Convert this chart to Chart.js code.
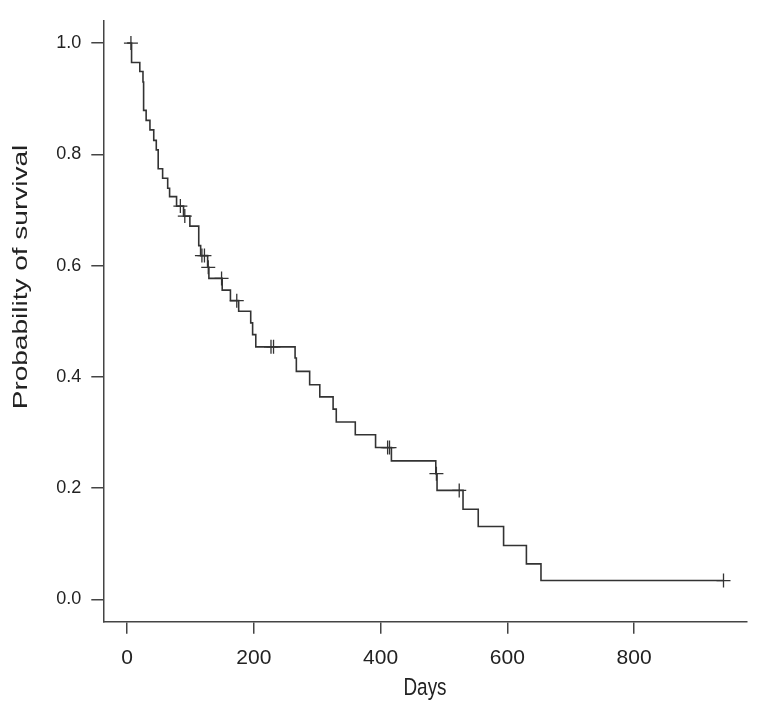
<!DOCTYPE html>
<html>
<head>
<meta charset="utf-8">
<script src="https://cdn.jsdelivr.net/npm/chart.js@4/dist/chart.umd.min.js"></script>
<style>
  html, body { margin: 0; padding: 0; background: #fff; }
  #wrap { width: 763px; height: 712px; }
</style>
</head>
<body>
<div id="wrap"><canvas id="km" width="763" height="712"></canvas></div>
<script>
// Kaplan-Meier estimate
const times = [0, 7, 20, 25, 26, 30, 36, 42, 46, 49, 56, 64, 67, 78, 89, 99, 113, 116, 127, 129,
               150, 163, 176, 195, 198, 203, 265, 267, 288, 304, 325, 330, 360, 392, 417, 487, 489,
               530, 554, 594, 630, 653, 941];
const survival = [1.0, 0.965, 0.949, 0.930, 0.879, 0.861, 0.844, 0.825, 0.808, 0.774, 0.757, 0.739,
                  0.724, 0.707, 0.689, 0.671, 0.636, 0.618, 0.597, 0.577, 0.556, 0.537, 0.518, 0.497,
                  0.476, 0.454, 0.434, 0.410, 0.386, 0.364, 0.342, 0.319, 0.296, 0.273, 0.249, 0.226,
                  0.196, 0.162, 0.131, 0.097, 0.064, 0.034, 0.034];

// censored observations (+ marks)
const censorTimes = [6, 84, 91, 118, 122, 128, 149, 173, 227, 231, 411, 414, 488, 524, 941];
const censorSurv = [1.0, 0.707, 0.689, 0.618, 0.618, 0.597, 0.577, 0.537, 0.454, 0.454, 0.273,
                    0.273, 0.226, 0.196, 0.034];

const xTicks = [0, 200, 400, 600, 800];
const yTicks = [0, 0.2, 0.4, 0.6, 0.8, 1.0];
const xTitle = 'Days';
const yTitle = 'Probability of survival';

const ink = '#333';

// axis titles drawn by hand so they sit where the original has them
const axisTitles = {
    id: 'axisTitles',
    afterDraw(chart) {
        const ctx = chart.ctx;
        ctx.save();
        ctx.fillStyle = '#222';
        ctx.textAlign = 'center';
        ctx.textBaseline = 'middle';
        ctx.font = '21px "Liberation Sans", Arial';
        ctx.save();
        ctx.translate(425, 689);
        ctx.scale(0.9, 1.1);
        ctx.fillText(xTitle, 0, 0);
        ctx.restore();
        ctx.font = '20px "Liberation Sans", Arial';
        ctx.translate(21, 277);
        ctx.rotate(-Math.PI / 2);
        ctx.scale(1.4, 1);
        ctx.fillText(yTitle, 0, 0);
        ctx.restore();
    }
};

const ctx = document.getElementById('km').getContext('2d');
new Chart(ctx, {
    data: {
        datasets: [
            {
                type: 'line',
                data: times.map((t, i) => ({ x: t, y: survival[i] })),
                stepped: 'before',
                borderColor: ink,
                borderWidth: 1.6,
                pointRadius: 0,
                fill: false
            },
            {
                type: 'scatter',
                data: censorTimes.map((t, i) => ({ x: t, y: censorSurv[i] })),
                pointStyle: 'cross',
                pointRadius: 7,
                borderColor: ink,
                borderWidth: 1.3
            }
        ]
    },
    options: {
        responsive: false,
        animation: false,
        devicePixelRatio: 1,
        layout: { padding: { top: 12.7, right: 16.3, left: 0, bottom: 0 } },
        plugins: { legend: { display: false }, tooltip: { enabled: false } },
        scales: {
            x: {
                type: 'linear',
                min: -37.6,
                max: 977.6,
                afterBuildTicks: s => { s.ticks = xTicks.map(v => ({ value: v })); },
                afterFit: s => { s.height = 90.3; },
                ticks: {
                    color: '#222',
                    font: { family: '"Liberation Sans", Arial', size: 21 },
                    padding: 12,
                    maxRotation: 0
                },
                grid: { drawOnChartArea: false, drawTicks: true, tickLength: 12, tickColor: '#444', lineWidth: 1.5 },
                border: { display: true, color: '#444', width: 1.5 }
            },
            y: {
                type: 'linear',
                min: -0.04,
                max: 1.04,
                afterBuildTicks: s => { s.ticks = yTicks.map(v => ({ value: v })); },
                afterFit: s => { s.width = 103.3; },
                ticks: {
                    color: '#222',
                    font: { family: '"Liberation Sans", Arial', size: 18 },
                    padding: 10,
                    callback: v => v.toFixed(1)
                },
                grid: { drawOnChartArea: false, drawTicks: true, tickLength: 12, tickColor: '#444', lineWidth: 1.5 },
                border: { display: true, color: '#444', width: 1.5 }
            }
        }
    },
    plugins: [axisTitles]
});
</script>
</body>
</html>
